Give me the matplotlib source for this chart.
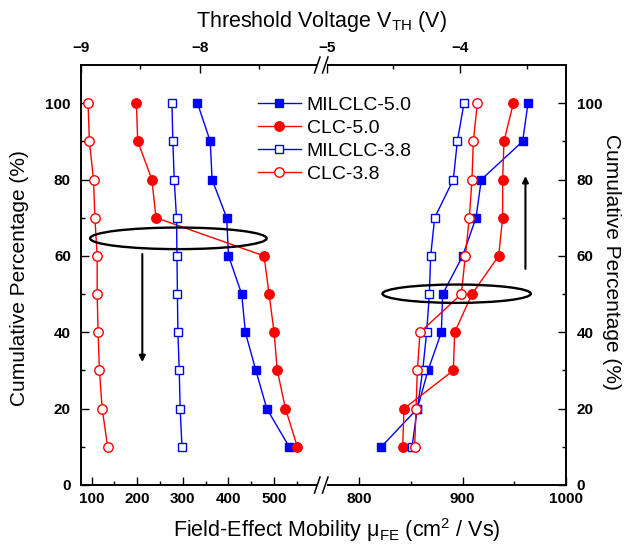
import numpy as np
import matplotlib.pyplot as plt
from matplotlib.patches import Ellipse, Rectangle
from matplotlib.lines import Line2D
from matplotlib.ticker import FixedLocator

plt.rcParams['font.family'] = ['Liberation Sans', 'DejaVu Sans']
plt.rcParams['mathtext.default'] = 'regular'

W, H = 625, 544

pct = [10, 20, 30, 40, 50, 60, 70, 80, 90, 100]

# field-effect mobility (cm2/Vs) -> bottom axis, left panel
mob_milclc50 = [533, 484, 460, 437, 429, 400, 396, 364, 360, 332]
mob_clc50 = [551, 525, 507, 500, 489, 478, 241, 232, 201, 198]
mob_milclc38 = [298, 294, 292, 289, 288, 287, 286, 281, 278, 276]
mob_clc38 = [135, 123, 117, 114, 112, 112, 107, 104, 95, 92]

# threshold voltage (V) -> top axis, right panel
vth_milclc50 = [-4.59, -4.32, -4.24, -4.14, -4.13, -3.98, -3.88, -3.84, -3.53, -3.49]
vth_clc50 = [-4.43, -4.42, -4.05, -4.04, -3.91, -3.71, -3.68, -3.68, -3.67, -3.60]
vth_milclc38 = [-4.36, -4.32, -4.28, -4.25, -4.23, -4.22, -4.19, -4.05, -4.02, -3.97]
vth_clc38 = [-4.34, -4.33, -4.32, -4.30, -3.99, -3.96, -3.93, -3.91, -3.90, -3.87]

names = ['MILCLC-5.0', 'CLC-5.0', 'MILCLC-3.8', 'CLC-3.8']
colors = ['#0000ff', '#ff0000', '#0000ff', '#ff0000']
markers = ['s', 'o', 's', 'o']
filled = [True, True, False, False]
mob = [mob_milclc50, mob_clc50, mob_milclc38, mob_clc38]
vth = [vth_milclc50, vth_clc50, vth_milclc38, vth_clc38]


def px(x, y):
    return x / W, 1 - y / H


fig = plt.figure(figsize=(W / 100, H / 100), dpi=100)
gs = fig.add_gridspec(1, 2, width_ratios=[241, 244], wspace=0,
                      left=80.7 / W, right=565.7 / W,
                      top=1 - 65 / H, bottom=1 - 485 / H)
axL = fig.add_subplot(gs[0])
axR = fig.add_subplot(gs[1], sharey=axL)
axLt = axL.twiny()
axRt = axR.twiny()

handles = []
for i in range(4):
    mfc = colors[i] if filled[i] else 'white'
    ms = 6.3 if markers[i] == 's' else 6.8
    kw = dict(color=colors[i], lw=1, marker=markers[i], ms=ms, mfc=mfc,
              mec=colors[i], mew=1)
    h, = axL.plot(mob[i], pct, **kw)
    axRt.plot(vth[i], pct, **kw)
    handles.append(h)

axL.set_xlim(75.9, 604.4)
axLt.set_xlim(-9.0, -6.973)
axR.set_xlim(763.5, 1000)
axRt.set_xlim(-5.0375, -3.207)
axL.set_ylim(0, 110)

axL.xaxis.set_major_locator(FixedLocator([100, 200, 300, 400, 500]))
axL.xaxis.set_minor_locator(FixedLocator([150, 250, 350, 450, 550]))
axR.xaxis.set_major_locator(FixedLocator([800, 900, 1000]))
axR.xaxis.set_minor_locator(FixedLocator([850, 950]))
axLt.xaxis.set_major_locator(FixedLocator([-9, -8]))
axLt.xaxis.set_minor_locator(FixedLocator([-8.5, -7.5]))
axRt.xaxis.set_major_locator(FixedLocator([-5, -4]))
axRt.xaxis.set_minor_locator(FixedLocator([-4.5, -3.5]))
axL.yaxis.set_major_locator(FixedLocator([0, 20, 40, 60, 80, 100]))
axL.yaxis.set_minor_locator(FixedLocator([10, 30, 50, 70, 90]))

for ax in [axL, axR, axLt, axRt]:
    ax.tick_params(which='major', direction='in', length=5.5, width=1, labelsize=11)
    ax.tick_params(which='minor', direction='in', length=3, width=1)
    for s in ax.spines.values():
        s.set_linewidth(1.2)

axL.tick_params(axis='x', which='both', pad=5)
axR.tick_params(axis='x', which='both', pad=5)
axLt.tick_params(axis='x', which='both', pad=7)
axRt.tick_params(axis='x', which='both', pad=7)
axL.tick_params(axis='y', which='both', right=False, pad=7)
axR.yaxis.tick_right()
axR.tick_params(axis='y', which='both', left=False, labelleft=False,
                right=True, labelright=True, pad=8)
for ax in [axL, axR, axLt, axRt]:
    for lab in ax.get_xticklabels() + ax.get_yticklabels():
        lab.set_fontweight('bold')

for ax in [axL, axLt]:
    ax.spines['right'].set_visible(False)
for ax in [axR, axRt]:
    ax.spines['left'].set_visible(False)

# ellipses and arrows
axL.add_patch(Ellipse((290, 64.6), 387, 5.65, fill=False, ec='black', lw=1.7, zorder=4))
axRt.add_patch(Ellipse((-4.025, 50.1), 1.113, 4.8, fill=False, ec='black', lw=1.7, zorder=4))
axL.annotate('', xy=(211, 32.2), xytext=(211, 60.5),
             arrowprops=dict(arrowstyle='-|>', color='black', lw=1.5,
                             mutation_scale=9, shrinkA=0, shrinkB=0))
axRt.annotate('', xy=(-3.509, 80.9), xytext=(-3.509, 56.6),
              arrowprops=dict(arrowstyle='-|>', color='black', lw=1.5,
                              mutation_scale=9, shrinkA=0, shrinkB=0))

# axis break marks
for yb in [485, 65]:
    x0, y0 = px(316.5, yb + 2)
    x1, y1 = px(326.5, yb - 2)
    fig.add_artist(Rectangle((x0, y0), x1 - x0, y1 - y0, transform=fig.transFigure,
                             fc='white', ec='none', zorder=5))
    for xs in [314.5, 322.5]:
        a = px(xs, yb + 8)
        b = px(xs + 5.5, yb - 8)
        fig.add_artist(Line2D([a[0], b[0]], [a[1], b[1]], transform=fig.transFigure,
                              color='black', lw=1.1, zorder=6))

fig.legend(handles, names, loc='upper left', bbox_to_anchor=px(258, 96),
           frameon=False, borderpad=0, borderaxespad=0, handlelength=2.2,
           handletextpad=0.3, labelspacing=0.28, fontsize=14)

fig.text(*px(336.7, 537), r'Field-Effect Mobility $\mu_{FE}$ (cm$^2$ / Vs)',
         ha='center', va='baseline', fontsize=15.5)
fig.text(*px(321.5, 27.3), r'Threshold Voltage $V_{TH}$ (V)',
         ha='center', va='baseline', fontsize=15.5)
fig.text(*px(20, 278), 'Cumulative Percentage (%)', rotation=90,
         ha='center', va='center', fontsize=15)
fig.text(*px(612, 262), 'Cumulative Percentage (%)', rotation=270,
         ha='center', va='center', fontsize=15)

fig.savefig('out.png', dpi=100)
